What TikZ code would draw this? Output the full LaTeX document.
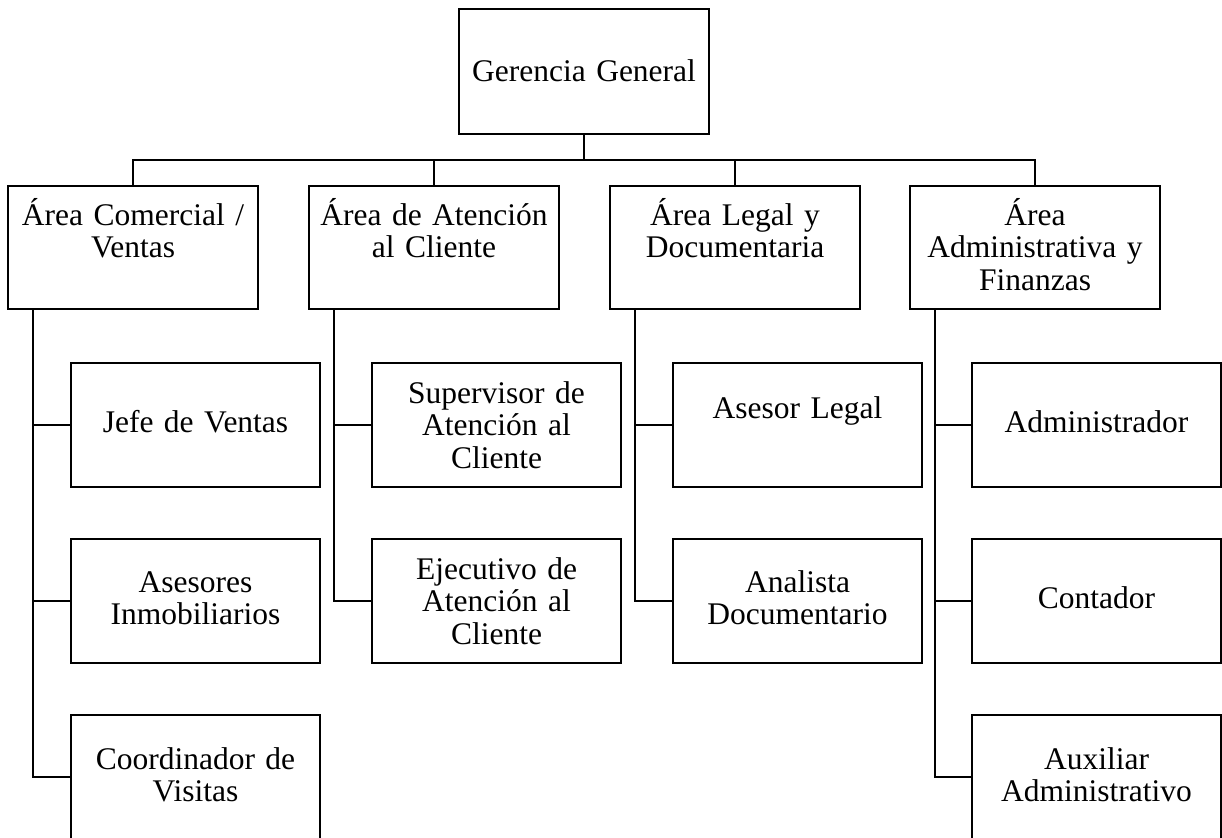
\documentclass[tikz,border=0pt]{standalone}
\usepackage{fontspec}
\setmainfont{Liberation Serif}
\usetikzlibrary{calc}
\newcommand\orgfont{\fontsize{31.5}{32.5}\selectfont}
\tikzset{
  unitbox/.style={draw, line width=2.9pt, inner sep=0pt, outer sep=0pt, align=center, font=\orgfont, anchor=north west},
  topbox/.style={unitbox, text width=250pt, text height=73pt, text depth=52pt},
  areabox/.style={unitbox, text width=250pt, text height=39pt, text depth=84pt},
  subbox/.style 2 args={unitbox, text width=249pt, text height=#1, text depth=#2},
  link/.style={draw, line width=2.3pt, line cap=rect}
}
\begin{document}
\begin{tikzpicture}[x=1pt,y=-1pt]
\useasboundingbox (0,0) rectangle (1222,837);
\clip (0,0) rectangle (1222,837);

% top
\node[topbox] (G) at (459,9) {Gerencia General};

% areas
\node[areabox] (A1) at (8,186)   {Área Comercial /\\Ventas};
\node[areabox] (A2) at (309,186) {Área de Atención\\al Cliente};
\node[areabox] (A3) at (610,186) {Área Legal y\\Documentaria};
\node[areabox] (A4) at (910,186) {Área\\Administrativa y\\Finanzas};

% column 1
\node[subbox={69pt}{55pt}] (S11) at (71,363) {Jefe de Ventas};
\node[subbox={53pt}{71pt}] (S12) at (71,539) {Asesores\\Inmobiliarios};
\node[subbox={54pt}{70pt}] (S13) at (71,715) {Coordinador de\\Visitas};
% column 2
\node[subbox={40pt}{84pt}] (S21) at (372,363) {Supervisor de\\Atención al\\Cliente};
\node[subbox={40pt}{84pt}] (S22) at (372,539) {Ejecutivo de\\Atención al\\Cliente};
% column 3
\node[subbox={55pt}{69pt}] (S31) at (673,363) {Asesor Legal};
\node[subbox={53pt}{71pt}] (S32) at (673,539) {Analista\\Documentario};
% column 4
\node[subbox={69pt}{55pt}] (S41) at (972,363) {Administrador};
\node[subbox={69pt}{55pt}] (S42) at (972,539) {Contador};
\node[subbox={54pt}{70pt}] (S43) at (972,715) {Auxiliar\\Administrativo};

% top connectors
\coordinate (bus) at (584,160);
\draw[link] (G.south) -- (bus);
\draw[link] (A1.north) |- (bus) -| (A4.north);
\draw[link] (A2.north) -- (A2.north |- bus);
\draw[link] (A3.north) -- (A3.north |- bus);

% spines
\coordinate (p1) at ($(A1.south west)+(25,0)$);
\coordinate (p2) at ($(A2.south west)+(25,0)$);
\coordinate (p3) at ($(A3.south west)+(25,0)$);
\coordinate (p4) at ($(A4.south west)+(25,0)$);

\draw[link] (p1) |- (S13.west);
\draw[link] (S11.west) -- (S11.west -| p1);
\draw[link] (S12.west) -- (S12.west -| p1);

\draw[link] (p2) |- (S22.west);
\draw[link] (S21.west) -- (S21.west -| p2);

\draw[link] (p3) |- (S32.west);
\draw[link] (S31.west) -- (S31.west -| p3);

\draw[link] (p4) |- (S43.west);
\draw[link] (S41.west) -- (S41.west -| p4);
\draw[link] (S42.west) -- (S42.west -| p4);
\end{tikzpicture}
\end{document}
